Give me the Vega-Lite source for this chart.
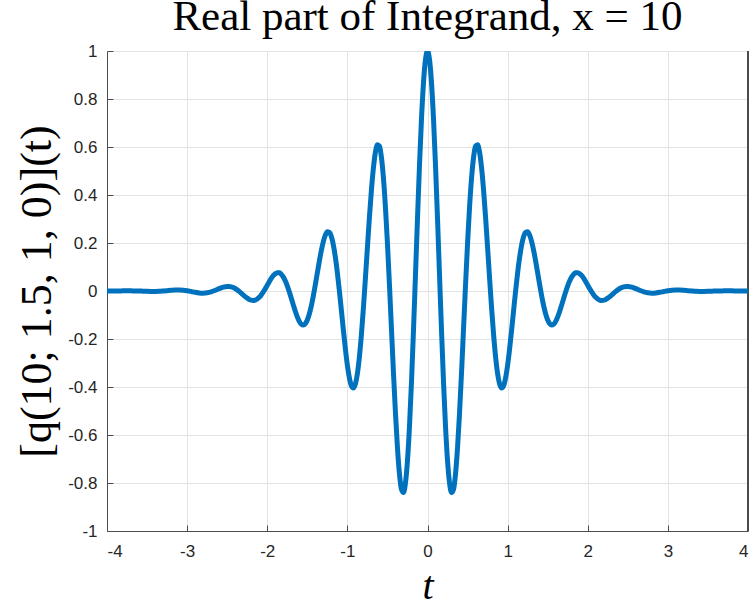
{
  "$schema": "https://vega.github.io/schema/vega-lite/v6.json",
  "width": 641,
  "height": 480,
  "autosize": {"type": "none"},
  "padding": {"left": 107, "top": 51, "right": 4, "bottom": 75},
  "background": "white",
  "title": {
    "text": "Real part of Integrand, x = 10",
    "font": "Liberation Serif",
    "fontSize": 43,
    "fontWeight": "normal",
    "color": "#000000",
    "anchor": "middle",
    "baseline": "alphabetic",
    "offset": -14,
    "dy": 17
  },
  "config": {
    "view": {"stroke": null},
    "axis": {
      "grid": true,
      "gridColor": "#e3e3e3",
      "gridWidth": 1,
      "domainColor": "#4d4d4d",
      "domainWidth": 1,
      "tickColor": "#4d4d4d",
      "tickSize": -6,
      "labelFont": "Liberation Sans",
      "labelFontSize": 17,
      "labelColor": "#262626",
      "titleFont": "Liberation Serif",
      "titleFontWeight": "normal",
      "titleColor": "#000000"
    }
  },
  "data": {
    "values": [
      {"t": -4, "v": -0.0002}, {"t": -3.95, "v": -0.0001}, {"t": -3.9, "v": 0.0001}, {"t": -3.85, "v": 0.0004},
      {"t": -3.8, "v": 0.0006}, {"t": -3.75, "v": 0.0007}, {"t": -3.7, "v": 0.0006}, {"t": -3.65, "v": 0.0003},
      {"t": -3.6, "v": -0.0001}, {"t": -3.55, "v": -0.0007}, {"t": -3.5, "v": -0.0013}, {"t": -3.45, "v": -0.0016},
      {"t": -3.4, "v": -0.0016}, {"t": -3.35, "v": -0.0011}, {"t": -3.3, "v": 0.0}, {"t": -3.25, "v": 0.0013},
      {"t": -3.2, "v": 0.0027}, {"t": -3.15, "v": 0.0037}, {"t": -3.1, "v": 0.0039}, {"t": -3.05, "v": 0.003},
      {"t": -3, "v": 0.0009}, {"t": -2.95, "v": -0.0021}, {"t": -2.9, "v": -0.0054}, {"t": -2.85, "v": -0.0079},
      {"t": -2.8, "v": -0.0089}, {"t": -2.75, "v": -0.0075}, {"t": -2.7, "v": -0.0035}, {"t": -2.65, "v": 0.0027},
      {"t": -2.6, "v": 0.0098}, {"t": -2.55, "v": 0.0159}, {"t": -2.5, "v": 0.019},
      {"t": -2.475, "v": 0.0189}, {"t": -2.45, "v": 0.0174}, {"t": -2.425, "v": 0.0145}, {"t": -2.4, "v": 0.0103},
      {"t": -2.375, "v": 0.0048}, {"t": -2.35, "v": -0.0017}, {"t": -2.325, "v": -0.0089}, {"t": -2.3, "v": -0.0163},
      {"t": -2.275, "v": -0.0235}, {"t": -2.25, "v": -0.0299}, {"t": -2.225, "v": -0.035}, {"t": -2.2, "v": -0.0383},
      {"t": -2.175, "v": -0.0393}, {"t": -2.15, "v": -0.0377}, {"t": -2.125, "v": -0.0333}, {"t": -2.1, "v": -0.0261},
      {"t": -2.075, "v": -0.0163}, {"t": -2.05, "v": -0.0042}, {"t": -2.025, "v": 0.0095}, {"t": -2, "v": 0.0241},
      {"t": -1.975, "v": 0.0387}, {"t": -1.95, "v": 0.0523}, {"t": -1.925, "v": 0.0637}, {"t": -1.9, "v": 0.0721},
      {"t": -1.875, "v": 0.0764}, {"t": -1.85, "v": 0.0759}, {"t": -1.825, "v": 0.0702}, {"t": -1.8, "v": 0.059},
      {"t": -1.775, "v": 0.0427}, {"t": -1.75, "v": 0.0217}, {"t": -1.725, "v": -0.003}, {"t": -1.7, "v": -0.03},
      {"t": -1.675, "v": -0.0578}, {"t": -1.65, "v": -0.0844}, {"t": -1.625, "v": -0.1079}, {"t": -1.6, "v": -0.1266},
      {"t": -1.575, "v": -0.1384}, {"t": -1.55, "v": -0.1421}, {"t": -1.525, "v": -0.1364}, {"t": -1.5, "v": -0.121},
      {"t": -1.475, "v": -0.0959}, {"t": -1.45, "v": -0.0619}, {"t": -1.425, "v": -0.0205}, {"t": -1.4, "v": 0.0261},
      {"t": -1.375, "v": 0.0753}, {"t": -1.35, "v": 0.1239}, {"t": -1.325, "v": 0.1687}, {"t": -1.3, "v": 0.2061},
      {"t": -1.275, "v": 0.233}, {"t": -1.25, "v": 0.2467}, {"t": -1.225, "v": 0.2449}, {"t": -1.2, "v": 0.2267},
      {"t": -1.175, "v": 0.1916}, {"t": -1.15, "v": 0.1408}, {"t": -1.125, "v": 0.0763}, {"t": -1.1, "v": 0.0014},
      {"t": -1.075, "v": -0.0798}, {"t": -1.05, "v": -0.1623}, {"t": -1.025, "v": -0.2403}, {"t": -1, "v": -0.3087},
      {"t": -0.975, "v": -0.3618}, {"t": -0.95, "v": -0.395}, {"t": -0.925, "v": -0.4045}, {"t": -0.9, "v": -0.3879},
      {"t": -0.875, "v": -0.3444}, {"t": -0.85, "v": -0.275}, {"t": -0.825, "v": -0.1823}, {"t": -0.8, "v": -0.0711},
      {"t": -0.775, "v": 0.0525}, {"t": -0.75, "v": 0.181}, {"t": -0.725, "v": 0.3063}, {"t": -0.7, "v": 0.4197},
      {"t": -0.675, "v": 0.5129}, {"t": -0.65, "v": 0.5783}, {"t": -0.625, "v": 0.6098}, {"t": -0.6, "v": 0.6033},
      {"t": -0.575, "v": 0.5569}, {"t": -0.55, "v": 0.4713}, {"t": -0.525, "v": 0.3501}, {"t": -0.5, "v": 0.1992},
      {"t": -0.475, "v": 0.0271}, {"t": -0.45, "v": -0.1559}, {"t": -0.425, "v": -0.3385}, {"t": -0.4, "v": -0.5075},
      {"t": -0.375, "v": -0.6522}, {"t": -0.35, "v": -0.7613}, {"t": -0.325, "v": -0.826}, {"t": -0.3, "v": -0.84},
      {"t": -0.275, "v": -0.8002}, {"t": -0.25, "v": -0.707}, {"t": -0.225, "v": -0.5646}, {"t": -0.2, "v": -0.3805},
      {"t": -0.175, "v": -0.1657}, {"t": -0.15, "v": 0.0667}, {"t": -0.125, "v": 0.3017}, {"t": -0.1, "v": 0.5235},
      {"t": -0.075, "v": 0.7168}, {"t": -0.05, "v": 0.8678}, {"t": -0.025, "v": 0.9651},
      {"t": 0, "v": 1.0},
      {"t": 0.025, "v": 0.9651}, {"t": 0.05, "v": 0.8678}, {"t": 0.075, "v": 0.7168}, {"t": 0.1, "v": 0.5235},
      {"t": 0.125, "v": 0.3017}, {"t": 0.15, "v": 0.0667}, {"t": 0.175, "v": -0.1657}, {"t": 0.2, "v": -0.3805},
      {"t": 0.225, "v": -0.5646}, {"t": 0.25, "v": -0.707}, {"t": 0.275, "v": -0.8002}, {"t": 0.3, "v": -0.84},
      {"t": 0.325, "v": -0.826}, {"t": 0.35, "v": -0.7613}, {"t": 0.375, "v": -0.6522}, {"t": 0.4, "v": -0.5075},
      {"t": 0.425, "v": -0.3385}, {"t": 0.45, "v": -0.1559}, {"t": 0.475, "v": 0.0271}, {"t": 0.5, "v": 0.1992},
      {"t": 0.525, "v": 0.3501}, {"t": 0.55, "v": 0.4713}, {"t": 0.575, "v": 0.5569}, {"t": 0.6, "v": 0.6033},
      {"t": 0.625, "v": 0.6098}, {"t": 0.65, "v": 0.5783}, {"t": 0.675, "v": 0.5129}, {"t": 0.7, "v": 0.4197},
      {"t": 0.725, "v": 0.3063}, {"t": 0.75, "v": 0.181}, {"t": 0.775, "v": 0.0525}, {"t": 0.8, "v": -0.0711},
      {"t": 0.825, "v": -0.1823}, {"t": 0.85, "v": -0.275}, {"t": 0.875, "v": -0.3444}, {"t": 0.9, "v": -0.3879},
      {"t": 0.925, "v": -0.4045}, {"t": 0.95, "v": -0.395}, {"t": 0.975, "v": -0.3618}, {"t": 1, "v": -0.3087},
      {"t": 1.025, "v": -0.2403}, {"t": 1.05, "v": -0.1623}, {"t": 1.075, "v": -0.0798}, {"t": 1.1, "v": 0.0014},
      {"t": 1.125, "v": 0.0763}, {"t": 1.15, "v": 0.1408}, {"t": 1.175, "v": 0.1916}, {"t": 1.2, "v": 0.2267},
      {"t": 1.225, "v": 0.2449}, {"t": 1.25, "v": 0.2467}, {"t": 1.275, "v": 0.233}, {"t": 1.3, "v": 0.2061},
      {"t": 1.325, "v": 0.1687}, {"t": 1.35, "v": 0.1239}, {"t": 1.375, "v": 0.0753}, {"t": 1.4, "v": 0.0261},
      {"t": 1.425, "v": -0.0205}, {"t": 1.45, "v": -0.0619}, {"t": 1.475, "v": -0.0959}, {"t": 1.5, "v": -0.121},
      {"t": 1.525, "v": -0.1364}, {"t": 1.55, "v": -0.1421}, {"t": 1.575, "v": -0.1384}, {"t": 1.6, "v": -0.1266},
      {"t": 1.625, "v": -0.1079}, {"t": 1.65, "v": -0.0844}, {"t": 1.675, "v": -0.0578}, {"t": 1.7, "v": -0.03},
      {"t": 1.725, "v": -0.003}, {"t": 1.75, "v": 0.0217}, {"t": 1.775, "v": 0.0427}, {"t": 1.8, "v": 0.059},
      {"t": 1.825, "v": 0.0702}, {"t": 1.85, "v": 0.0759}, {"t": 1.875, "v": 0.0764}, {"t": 1.9, "v": 0.0721},
      {"t": 1.925, "v": 0.0637}, {"t": 1.95, "v": 0.0523}, {"t": 1.975, "v": 0.0387}, {"t": 2, "v": 0.0241},
      {"t": 2.025, "v": 0.0095}, {"t": 2.05, "v": -0.0042}, {"t": 2.075, "v": -0.0163}, {"t": 2.1, "v": -0.0261},
      {"t": 2.125, "v": -0.0333}, {"t": 2.15, "v": -0.0377}, {"t": 2.175, "v": -0.0393}, {"t": 2.2, "v": -0.0383},
      {"t": 2.225, "v": -0.035}, {"t": 2.25, "v": -0.0299}, {"t": 2.275, "v": -0.0235}, {"t": 2.3, "v": -0.0163},
      {"t": 2.325, "v": -0.0089}, {"t": 2.35, "v": -0.0017}, {"t": 2.375, "v": 0.0048}, {"t": 2.4, "v": 0.0103},
      {"t": 2.425, "v": 0.0145}, {"t": 2.45, "v": 0.0174}, {"t": 2.475, "v": 0.0189}, {"t": 2.5, "v": 0.019},
      {"t": 2.55, "v": 0.0159}, {"t": 2.6, "v": 0.0098}, {"t": 2.65, "v": 0.0027}, {"t": 2.7, "v": -0.0035},
      {"t": 2.75, "v": -0.0075}, {"t": 2.8, "v": -0.0089}, {"t": 2.85, "v": -0.0079}, {"t": 2.9, "v": -0.0054},
      {"t": 2.95, "v": -0.0021}, {"t": 3, "v": 0.0009}, {"t": 3.05, "v": 0.003}, {"t": 3.1, "v": 0.0039},
      {"t": 3.15, "v": 0.0037}, {"t": 3.2, "v": 0.0027}, {"t": 3.25, "v": 0.0013}, {"t": 3.3, "v": 0.0},
      {"t": 3.35, "v": -0.0011}, {"t": 3.4, "v": -0.0016}, {"t": 3.45, "v": -0.0016}, {"t": 3.5, "v": -0.0013},
      {"t": 3.55, "v": -0.0007}, {"t": 3.6, "v": -0.0001}, {"t": 3.65, "v": 0.0003}, {"t": 3.7, "v": 0.0006},
      {"t": 3.75, "v": 0.0007}, {"t": 3.8, "v": 0.0006}, {"t": 3.85, "v": 0.0004}, {"t": 3.9, "v": 0.0001},
      {"t": 3.95, "v": -0.0001}, {"t": 4, "v": -0.0002}
    ]
  },
  "layer": [
    {
      "mark": {"type": "rule", "color": "#4d4d4d", "strokeWidth": 1},
      "encoding": {"x": {"datum": 4, "type": "quantitative"}}
    },
    {
      "mark": {"type": "line", "color": "#0072BD", "strokeWidth": 5, "interpolate": "monotone", "clip": true},
      "encoding": {
        "x": {
          "field": "t",
          "type": "quantitative",
          "scale": {"domain": [-4, 4], "nice": false, "zero": false},
          "axis": {
            "values": [-4, -3, -2, -1, 0, 1, 2, 3, 4],
            "labelExpr": "'' + datum.value",
            "labelPadding": 18,
            "title": "t",
            "titleFontSize": 40,
            "titleFontStyle": "italic",
            "titlePadding": 7
          }
        },
        "y": {
          "field": "v",
          "type": "quantitative",
          "scale": {"domain": [-1, 1], "nice": false, "zero": false},
          "axis": {
            "values": [-1, -0.8, -0.6, -0.4, -0.2, 0, 0.2, 0.4, 0.6, 0.8, 1],
            "labelExpr": "'' + datum.value",
            "labelPadding": 16,
            "title": "[q(10; 1.5, 1, 0)](t)",
            "titleFontSize": 44,
            "titlePadding": 8
          }
        }
      }
    }
  ]
}
